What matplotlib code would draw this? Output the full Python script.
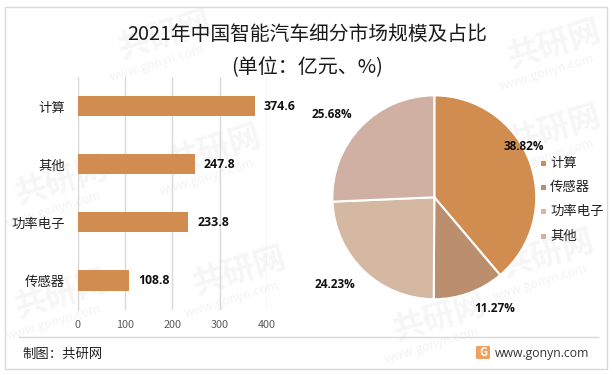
import matplotlib
matplotlib.use('Agg')
import matplotlib.pyplot as plt
from matplotlib.patches import Rectangle, FancyBboxPatch

plt.rcParams['font.family'] = ['Noto Sans CJK SC', 'DejaVu Sans']

bar_cats = ['计算', '其他', '功率电子', '传感器']
bar_vals = [374.6, 247.8, 233.8, 108.8]
bar_ticks = [0, 100, 200, 300, 400]

pie_cats = ['计算', '传感器', '功率电子', '其他']
pie_vals = [38.82, 11.27, 24.23, 25.68]
pie_labels = ['38.82%', '11.27%', '24.23%', '25.68%']
pie_colors = ['#D18D4F', '#BB8F6E', '#D5B8A2', '#CFB0A3']

W, H = 613, 375


def px_axes(fig, x0, y0, x1, y1):
    # pixel box measured from the top left of the picture
    return fig.add_axes([x0 / W, 1 - y1 / H, (x1 - x0) / W, (y1 - y0) / H])


fig = plt.figure(figsize=(W / 100, H / 100), dpi=100, facecolor='white')

# watermarks
marks = [(165, 36), (215, 150), (240, 272), (62, 182), (62, 295), (555, 45), (555, 130), (440, 318), (548, 255)]
for mx, my in marks:
    fig.text(mx / W, 1 - my / H, '共研网', fontsize=23, fontweight='bold', color='#F6F6F6',
             rotation=17, ha='center', va='center', zorder=-2)
    fig.text((mx - 8) / W, 1 - (my + 27) / H, 'www.gonyn.com', fontsize=9, color='#F3F3F3',
             rotation=17, ha='center', va='center', zorder=-2)

# outer frame and footer rule
fig.add_artist(Rectangle((4.5 / W, 1 - 369 / H), 602 / W, 362.5 / H, transform=fig.transFigure,
                         fill=False, edgecolor='#D9D9D9', lw=1.0))
fig.add_artist(plt.Line2D([19 / W, 598 / W], [1 - 337 / H, 1 - 337 / H], color='#D9D9D9', lw=1.0))

fig.text(307 / W, 1 - 34 / H, '2021年中国智能汽车细分市场规模及占比', fontsize=14.2, ha='center', va='center', color='#1A1A1A')
fig.text(307 / W, 1 - 68 / H, '(单位：亿元、%)', fontsize=14.4, ha='center', va='center', color='#1A1A1A')

# bars
ax = px_axes(fig, 77.5, 77, 267, 309.5)
ax.patch.set_alpha(0)
ypos = list(range(len(bar_cats)))
ax.barh(ypos, bar_vals, height=0.35, color=pie_colors[0], zorder=3)
for y, v in zip(ypos, bar_vals):
    ax.text(v + 19, y, f'{v:.1f}', va='center', ha='left', fontsize=8.8, fontweight='bold',
            family='Open Sans', color='#111111', zorder=4)
ax.set_xlim(0, 400)
ax.set_ylim(3.5, -0.5)
ax.set_yticks(ypos)
ax.set_yticklabels(bar_cats, fontsize=9.6, color='#222222')
ax.set_xticks(bar_ticks)
ax.set_xticklabels([str(t) for t in bar_ticks], fontsize=7.8, color='#595959')
ax.tick_params(length=0, pad=7.5)
ax.tick_params(axis='y', pad=9)
ax.grid(axis='x', color='#D9D9D9', lw=1.0, zorder=0)
for s in ax.spines.values():
    s.set_visible(False)
ax.spines['left'].set_visible(True)
ax.spines['left'].set_color('#D9D9D9')

# pie
ax2 = px_axes(fig, 434.3 - 106, 197.3 - 106, 434.3 + 106, 197.3 + 106)
ax2.patch.set_alpha(0)
wedges, _ = ax2.pie(pie_vals, colors=pie_colors, startangle=90, counterclock=False, radius=1.0,
                    wedgeprops={'edgecolor': 'white', 'linewidth': 1.5})
ax2.set_xlim(-1.04, 1.04)
ax2.set_ylim(-1.04, 1.04)
label_pos = [(523.5, 147), (495, 308), (334.5, 285), (331.5, 115)]
for (lx, ly), txt in zip(label_pos, pie_labels):
    fig.text(lx / W, 1 - ly / H, txt, fontsize=8.5, fontweight='bold', family='Open Sans',
             ha='center', va='center', color='#111111')

# legend
leg_y = [163, 187, 211, 236]
for ly, cat, col in zip(leg_y, pie_cats, pie_colors):
    fig.add_artist(Rectangle((541 / W, 1 - (ly + 2.5) / H), 5 / W, 5 / H, transform=fig.transFigure,
                             facecolor=col, edgecolor='none'))
    fig.text(550 / W, 1 - ly / H, cat, fontsize=9.6, ha='left', va='center', color='#222222')

# footer
fig.text(22 / W, 1 - 354 / H, '制图：共研网', fontsize=9.6, ha='left', va='center', color='#222222')
fig.add_artist(FancyBboxPatch((476 / W, 1 - 359 / H), 14 / W, 13 / H, boxstyle='round,pad=0,rounding_size=0.003',
                              transform=fig.transFigure, facecolor='#F0A060', edgecolor='none'))
fig.text(483 / W, 1 - 352.5 / H, 'G', fontsize=8, fontweight='bold', ha='center', va='center', color='white')
fig.text(495 / W, 1 - 353 / H, 'www.gonyn.com', fontsize=8.8, family='Open Sans', ha='left', va='center', color='#333333')

fig.savefig('out.png', dpi=100)
